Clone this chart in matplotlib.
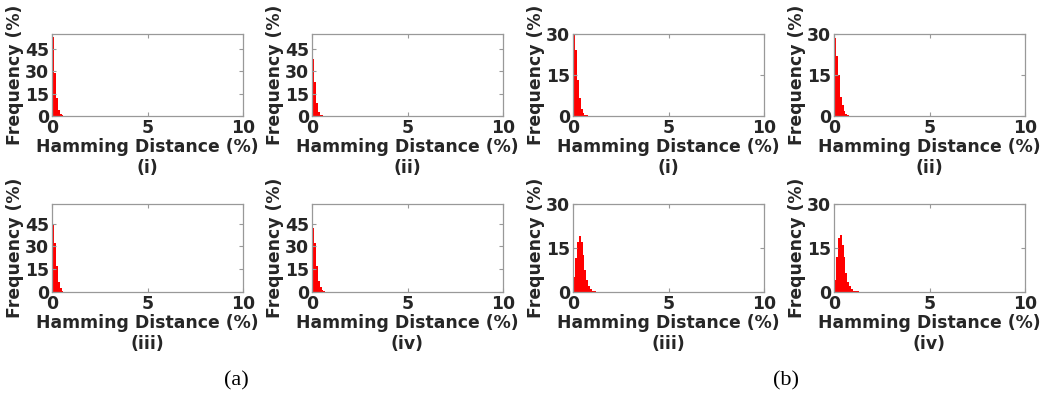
import matplotlib
matplotlib.use('Agg')
import matplotlib.pyplot as plt

# bin width of the hamming distance histograms (%)
bin_width = 0.1

# (a) panels: frequency (%) per bin, starting at 0
a_i = [53, 29, 12, 4, 1.2, 0.4, 0.2, 0.1]
a_ii = [38, 23, 9, 3, 1, 0.4, 0.2, 0.1]
a_iii = [44, 32, 17, 6.5, 2.5, 0.9, 0.3, 0.1]
a_iv = [42, 32, 17, 7, 3, 1, 0.4, 0.1]

# (b) panels
b_i = [29.5, 24, 13, 6.5, 2.6, 1, 0.4, 0.2, 0.1]
b_ii = [28.5, 22, 15, 7, 4, 1.8, 0.8, 0.3, 0.1]
b_iii = [5, 11.5, 17, 19, 17, 12.5, 7.5, 4, 2, 1, 0.5, 0.3, 0.1]
b_iv = [4, 12, 18.5, 19.5, 16, 12, 6.5, 3.5, 2, 1, 0.5, 0.3, 0.2, 0.1]

a_yticks = [0, 15, 30, 45]
b_yticks = [0, 15, 30]
x_ticks = [0, 5, 10]

W, H = 1054, 400
fig = plt.figure(figsize=(W / 100, H / 100), dpi=100)
fs = 12.4

def px_axes(x0, x1, ytop, ybot):
    return fig.add_axes([x0 / W, 1 - ybot / H, (x1 - x0) / W, (ybot - ytop) / H])

def draw(ax, vals, yticks, ymax, sub):
    xs = [i * bin_width for i in range(len(vals))]
    ax.bar(xs, vals, width=bin_width, align='edge', color='#ff0000', linewidth=0)
    ax.set_xlim(0, 10)
    ax.set_ylim(0, ymax)
    ax.set_xticks(x_ticks)
    ax.set_yticks(yticks)
    ax.tick_params(direction='in', length=3, width=0.8, color='#999999',
                   top=True, right=True, labelsize=fs, pad=2)
    for lab in ax.get_xticklabels() + ax.get_yticklabels():
        lab.set_fontweight('bold')
        lab.set_color('#262626')
    for s in ax.spines.values():
        s.set_color('#999999')
        s.set_linewidth(0.9)
    ax.set_xlabel('Hamming Distance (%)\n' + sub, fontsize=fs, fontweight='bold',
                  color='#262626', labelpad=1, linespacing=1.2)
    ax.set_ylabel('Frequency (%)', fontsize=fs, fontweight='bold', color='#262626', labelpad=1)

cols = [(52, 243), (312, 503), (573, 764), (834, 1025)]
top_row = (34, 116)
bot_row = (204, 292)

draw(px_axes(*cols[0], *top_row), a_i, a_yticks, 55, '(i)')
draw(px_axes(*cols[1], *top_row), a_ii, a_yticks, 55, '(ii)')
draw(px_axes(*cols[0], *bot_row), a_iii, a_yticks, 58, '(iii)')
draw(px_axes(*cols[1], *bot_row), a_iv, a_yticks, 58, '(iv)')

draw(px_axes(*cols[2], *top_row), b_i, b_yticks, 30, '(i)')
draw(px_axes(*cols[3], *top_row), b_ii, b_yticks, 30, '(ii)')
draw(px_axes(*cols[2], *bot_row), b_iii, b_yticks, 30, '(iii)')
draw(px_axes(*cols[3], *bot_row), b_iv, b_yticks, 30, '(iv)')

fig.text(236 / W, 1 - 381 / H, '(a)', family='Liberation Serif', fontsize=16,
         ha='center', va='center')
fig.text(786 / W, 1 - 381 / H, '(b)', family='Liberation Serif', fontsize=16,
         ha='center', va='center')

fig.savefig('out.png', dpi=100)
